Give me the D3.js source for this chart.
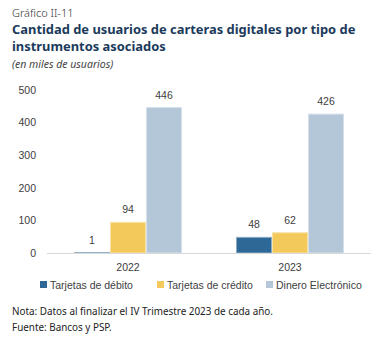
<!DOCTYPE html>
<html>
<head>
<meta charset="utf-8">
<script src="https://cdn.jsdelivr.net/npm/d3@7"></script>
<style>
  body { margin: 0; background: #fff; }
  svg { display: block; }
</style>
</head>
<body>
<div id="chart"></div>
<script>
// data
var years = ["2022", "2023"];
var seriesNames = ["Tarjetas de débito", "Tarjetas de crédito", "Dinero Electrónico"];
var debito = [1, 48];
var credito = [94, 62];
var dinero = [446, 426];
var yTicks = [0, 100, 200, 300, 400, 500];

var colors = ["#2e6896", "#f3c95c", "#b3c7d9"];
var textColor = "#404040";

var svgWidth = 387;
var svgHeight = 341;

var margin = { top: 90, right: 16, bottom: 88, left: 47 };
var width = svgWidth - margin.left - margin.right;
var height = 253 - margin.top;

var svg = d3.select("#chart")
  .append("svg")
  .attr("width", svgWidth)
  .attr("height", svgHeight);

// header texts
svg.append("text")
  .attr("x", 12).attr("y", 17)
  .attr("font-family", "Noto Sans").attr("font-size", 11)
  .attr("font-weight", 300)
  .attr("fill", "#333")
  .text("Gráfico II-11");

svg.append("text")
  .attr("x", 12).attr("y", 34)
  .attr("font-family", "Noto Sans").attr("font-size", 12.9)
  .attr("font-weight", "bold")
  .attr("fill", "#1b3a5c")
  .text("Cantidad de usuarios de carteras digitales por tipo de");

svg.append("text")
  .attr("x", 12).attr("y", 51)
  .attr("font-family", "Noto Sans").attr("font-size", 12.9)
  .attr("font-weight", "bold")
  .attr("fill", "#1b3a5c")
  .text("instrumentos asociados");

svg.append("text")
  .attr("x", 12).attr("y", 68)
  .attr("font-family", "Noto Sans").attr("font-size", 10.5)
  .attr("font-style", "italic")
  .attr("fill", "#444")
  .text("(en miles de usuarios)");

var chartGroup = svg.append("g")
  .attr("transform", `translate(${margin.left}, ${margin.top})`);

var x0 = d3.scaleBand()
  .domain(years)
  .range([0, width]);

var x1 = d3.scaleBand()
  .domain(seriesNames)
  .range([0, 108]);

var y = d3.scaleLinear()
  .domain([0, 500])
  .range([height, 0]);

// y axis (labels only)
var leftAxis = d3.axisLeft(y).tickValues(yTicks).tickSize(0).tickPadding(11);
var yAxis = chartGroup.append("g").call(leftAxis);
yAxis.select(".domain").remove();
yAxis.selectAll("text")
  .attr("font-family", "Liberation Sans").attr("font-size", 10.5)
  .attr("fill", textColor);

// bars
var rows = years.map(function(yr, i) {
  return { year: yr, values: [debito[i], credito[i], dinero[i]] };
});

var groups = chartGroup.selectAll(".year")
  .data(rows)
  .enter()
  .append("g")
  .attr("transform", d => `translate(${x0(d.year) + (x0.bandwidth() - 108) / 2}, 0)`);

groups.selectAll("rect")
  .data(d => d.values.map((v, j) => ({ name: seriesNames[j], value: v, j: j })))
  .enter()
  .append("rect")
  .attr("x", d => x1(d.name) + 0.5)
  .attr("width", x1.bandwidth() - 1)
  .attr("y", d => y(d.value))
  .attr("height", d => height - y(d.value))
  .attr("fill", d => colors[d.j])
  .attr("stroke", d => d3.interpolateRgb(colors[d.j], "#fff")(0.45))
  .attr("stroke-width", 1);

groups.selectAll(".lbl")
  .data(d => d.values.map((v, j) => ({ name: seriesNames[j], value: v, j: j })))
  .enter()
  .append("text")
  .attr("x", d => x1(d.name) + x1.bandwidth() / 2)
  .attr("y", d => y(d.value) - 9)
  .attr("text-anchor", "middle")
  .attr("font-family", "Liberation Sans").attr("font-size", 10.5)
  .attr("fill", textColor)
  .text(d => d.value);

// baseline
chartGroup.append("line")
  .attr("x1", 0).attr("x2", width)
  .attr("y1", height + 0.5).attr("y2", height + 0.5)
  .attr("stroke", "#d9d9d9").attr("stroke-width", 1);

// x axis labels
var bottomAxis = d3.axisBottom(x0).tickSize(0).tickPadding(11);
var xAxis = chartGroup.append("g")
  .attr("transform", `translate(0, ${height})`)
  .call(bottomAxis);
xAxis.select(".domain").remove();
xAxis.selectAll("text")
  .attr("font-family", "Liberation Sans").attr("font-size", 10.5)
  .attr("fill", textColor);

// legend
var legendX = [40, 157, 266];
var legend = svg.append("g");
seriesNames.forEach(function(name, i) {
  legend.append("rect")
    .attr("x", legendX[i]).attr("y", 281)
    .attr("width", 7).attr("height", 7)
    .attr("fill", colors[i]);
  legend.append("text")
    .attr("x", legendX[i] + 10).attr("y", 288.5)
    .attr("font-family", "Liberation Sans").attr("font-size", 10.5)
    .attr("fill", textColor)
    .text(name);
});

// notes
svg.append("text")
  .attr("x", 12).attr("y", 315)
  .attr("font-family", "Noto Sans").attr("font-size", 9.9)
  .attr("fill", "#222")
  .text("Nota: Datos al finalizar el IV Trimestre 2023 de cada año.");

svg.append("text")
  .attr("x", 12).attr("y", 331)
  .attr("font-family", "Noto Sans").attr("font-size", 9.9)
  .attr("fill", "#222")
  .text("Fuente: Bancos y PSP.");
</script>
</body>
</html>
